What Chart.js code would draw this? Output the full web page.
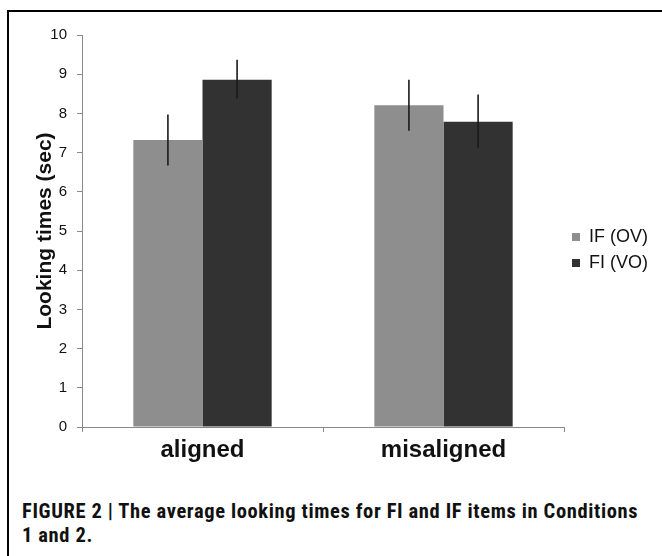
<!DOCTYPE html>
<html>
<head>
<meta charset="utf-8">
<script src="https://cdn.jsdelivr.net/npm/chart.js@4.4.0/dist/chart.umd.min.js"></script>
<style>
  html, body { margin: 0; padding: 0; background: #fff; width: 662px; height: 556px; overflow: hidden; }
  #frame { position: absolute; left: 7px; top: 10px; width: 700px; height: 600px; border: 2px solid #000; box-sizing: border-box; }
  #wrap { position: absolute; left: 0; top: 0; width: 662px; height: 465px; }
  #caption { position: absolute; left: 22px; top: 499px; width: 628px; font-family: "Liberation Sans Narrow", "Roboto Condensed", Arial, sans-serif; font-weight: bold; font-size: 20.5px; letter-spacing: 0.62px; line-height: 24px; color: #111; }
</style>
</head>
<body>
<div id="frame"></div>
<div id="wrap"><canvas id="c"></canvas></div>
<div id="caption">FIGURE 2 | The average looking times for FI and IF items in Conditions 1 and 2.</div>
<script>
const categories = ['aligned', 'misaligned'];
const seriesNames = ['IF (OV)', 'FI (VO)'];
const ifMeans = [7.32, 8.21];
const fiMeans = [8.86, 7.79];
const ifErrLow = [6.67, 7.56];
const ifErrHigh = [7.97, 8.86];
const fiErrLow = [8.38, 7.12];
const fiErrHigh = [9.37, 8.48];
const yTicks = [0, 1, 2, 3, 4, 5, 6, 7, 8, 9, 10];

const errorBars = {
  id: 'errorBars',
  afterDatasetsDraw(chart) {
    const ctx = chart.ctx;
    const y = chart.scales.y;
    chart.data.datasets.forEach((ds, i) => {
      const meta = chart.getDatasetMeta(i);
      meta.data.forEach((el, j) => {
        const lo = y.getPixelForValue(ds.errLow[j]);
        const hi = y.getPixelForValue(ds.errHigh[j]);
        ctx.save();
        ctx.strokeStyle = '#1a1a1a';
        ctx.lineWidth = 1.6;
        ctx.beginPath();
        ctx.moveTo(el.x, lo);
        ctx.lineTo(el.x, hi);
        ctx.stroke();
        ctx.restore();
      });
    });
  }
};

const FONT = 'Arial, "Liberation Sans", sans-serif';

new Chart(document.getElementById('c'), {
  type: 'bar',
  data: {
    labels: categories,
    datasets: [
      { label: seriesNames[0], data: ifMeans, errLow: ifErrLow, errHigh: ifErrHigh, backgroundColor: '#8e8e8e' },
      { label: seriesNames[1], data: fiMeans, errLow: fiErrLow, errHigh: fiErrHigh, backgroundColor: '#323232' }
    ]
  },
  plugins: [errorBars],
  options: {
    responsive: true,
    maintainAspectRatio: false,
    animation: false,
    devicePixelRatio: 1,
    layout: { padding: { left: 33, top: 35, right: 4, bottom: 0 } },
    datasets: { bar: { barPercentage: 1.0, categoryPercentage: 0.574 } },
    plugins: {
      tooltip: { enabled: false },
      legend: {
        position: 'right',
        labels: {
          boxWidth: 8, boxHeight: 8, padding: 8,
          color: '#111',
          font: { family: FONT, size: 18 }
        }
      }
    },
    scales: {
      x: {
        afterFit: (s) => { s.height = 38; },
        border: { color: '#888', width: 1 },
        grid: { offset: true, drawOnChartArea: false, drawTicks: true, tickLength: 5, color: '#888' },
        ticks: {
          color: '#111', padding: 4,
          font: { family: FONT, size: 24, weight: 'bold' }
        }
      },
      y: {
        min: 0, max: 10,
        afterFit: (s) => { s.width = 49; },
        afterBuildTicks: (s) => { s.ticks = yTicks.map(v => ({ value: v })); },
        border: { color: '#888', width: 1 },
        grid: { drawOnChartArea: false, drawTicks: true, tickLength: 5, color: '#888' },
        ticks: {
          color: '#111', padding: 10,
          font: { family: FONT, size: 15 }
        },
        title: {
          display: true, text: 'Looking times (sec)', color: '#111', padding: 0,
          font: { family: FONT, size: 21, weight: 'bold' }
        }
      }
    }
  }
});
</script>
</body>
</html>
